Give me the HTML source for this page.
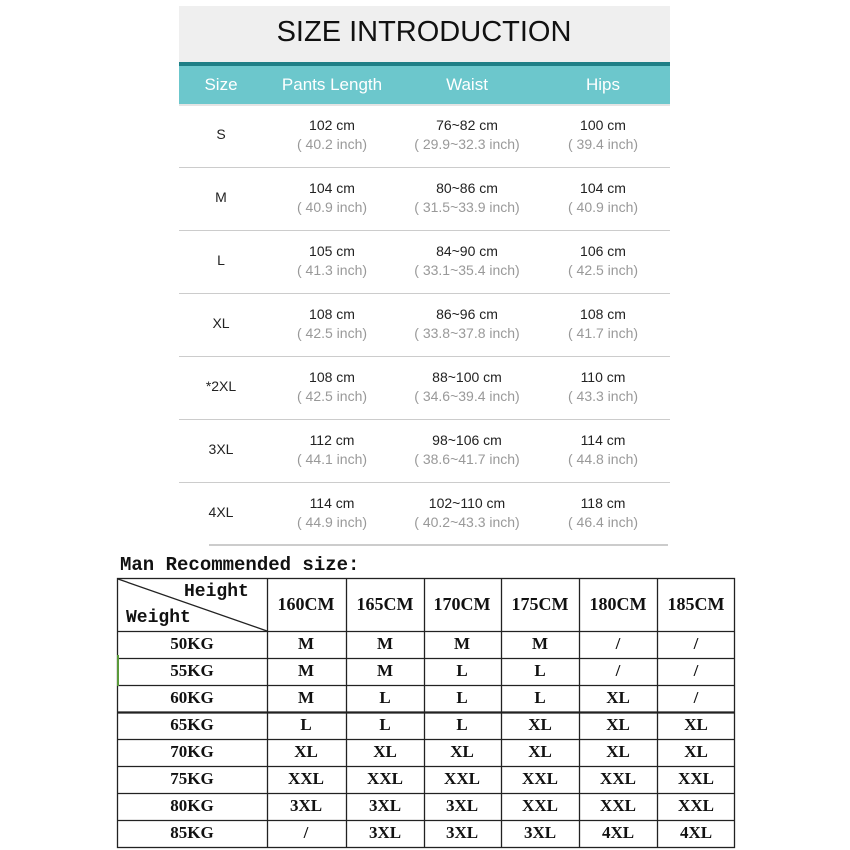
<!DOCTYPE html>
<html><head><meta charset="utf-8"><style>
body{margin:0;width:850px;height:850px;background:#fff;position:relative;overflow:hidden;font-family:"Liberation Sans",sans-serif}
.a{position:absolute}
.c{position:absolute;text-align:center;transform:translateX(-50%);white-space:nowrap}
.v{font-size:14px;color:#222;line-height:19px}
.g{font-size:14px;color:#999;line-height:19px}
.s{font-family:"Liberation Serif",serif;font-weight:bold;font-size:17px;color:#111;position:absolute;text-align:center;transform:translateX(-50%);white-space:nowrap}
</style></head><body>
<div class="a" style="left:179px;top:6px;width:491px;height:56px;background:#efefef"></div>
<div class="c" style="left:424px;top:16px;font-size:29px;color:#111">SIZE INTRODUCTION</div>
<div class="a" style="left:179px;top:62px;width:491px;height:4px;background:#1f7f86"></div>
<div class="a" style="left:179px;top:66px;width:491px;height:38px;background:#6cc7cc"></div>
<div class="a" style="left:179px;top:104px;width:491px;height:2px;background:#e4e4e4"></div>
<div class="c" style="left:221px;top:75px;font-size:17px;color:#fff">Size</div>
<div class="c" style="left:332px;top:75px;font-size:17px;color:#fff">Pants Length</div>
<div class="c" style="left:467px;top:75px;font-size:17px;color:#fff">Waist</div>
<div class="c" style="left:603px;top:75px;font-size:17px;color:#fff">Hips</div>
<div id="rows"></div>
<svg class="a" style="left:0;top:0" width="850" height="850">
<line x1="209" y1="545" x2="668" y2="545" stroke="#ccc" stroke-width="2"/>
<g stroke="#222" stroke-width="1.3" fill="none">
<rect x="117.5" y="578.5" width="617" height="269"/>
<line x1="267.5" y1="578" x2="267.5" y2="848"/>
<line x1="346.5" y1="578" x2="346.5" y2="848"/>
<line x1="424.5" y1="578" x2="424.5" y2="848"/>
<line x1="501.5" y1="578" x2="501.5" y2="848"/>
<line x1="579.5" y1="578" x2="579.5" y2="848"/>
<line x1="657.5" y1="578" x2="657.5" y2="848"/>
<line x1="117" y1="631.5" x2="735" y2="631.5"/>
<line x1="117" y1="658.5" x2="735" y2="658.5"/>
<line x1="117" y1="685.5" x2="735" y2="685.5"/>
<line x1="117" y1="712.5" x2="735" y2="712.5" stroke-width="2.2"/>
<line x1="117" y1="739.5" x2="735" y2="739.5"/>
<line x1="117" y1="766.5" x2="735" y2="766.5"/>
<line x1="117" y1="793.5" x2="735" y2="793.5"/>
<line x1="117" y1="820.5" x2="735" y2="820.5"/>
<line x1="118" y1="579" x2="267" y2="631"/>
</g>
<line x1="118" y1="655" x2="118" y2="686" stroke="#5a9a3a" stroke-width="2"/>
</svg>
<div class="a" style="left:120px;top:554px;font-family:'Liberation Mono',monospace;font-weight:bold;font-size:19px;color:#111">Man Recommended size:</div>
<div class="a" style="left:184px;top:582px;font-family:'Liberation Mono',monospace;font-weight:bold;font-size:18px;color:#111">Height</div>
<div class="a" style="left:126px;top:608px;font-family:'Liberation Mono',monospace;font-weight:bold;font-size:18px;color:#111">Weight</div>
<div id="t2"></div>
<script>
var R=[["S","102 cm","40.2","76~82 cm","29.9~32.3","100 cm","39.4"],["M","104 cm","40.9","80~86 cm","31.5~33.9","104 cm","40.9"],["L","105 cm","41.3","84~90 cm","33.1~35.4","106 cm","42.5"],["XL","108 cm","42.5","86~96 cm","33.8~37.8","108 cm","41.7"],["*2XL","108 cm","42.5","88~100 cm","34.6~39.4","110 cm","43.3"],["3XL","112 cm","44.1","98~106 cm","38.6~41.7","114 cm","44.8"],["4XL","114 cm","44.9","102~110 cm","40.2~43.3","118 cm","46.4"]];
var h="";
R.forEach(function(r,i){var y=106+i*63;
h+='<div class="c v" style="left:221px;top:'+(y+19)+'px">'+r[0]+'</div>';
[[332,1],[467,3],[603,5]].forEach(function(p){h+='<div class="c v" style="left:'+p[0]+'px;top:'+(y+10)+'px">'+r[p[1]]+'</div><div class="c g" style="left:'+p[0]+'px;top:'+(y+29)+'px">( '+r[p[1]+1]+' inch)</div>';});
if(i<6)h+='<div class="a" style="left:179px;top:'+(y+61)+'px;width:491px;height:1px;background:#ccc"></div>';});
document.getElementById("rows").innerHTML=h;
var X=[306,385,462,540,618,696];var H=["160CM","165CM","170CM","175CM","180CM","185CM"];
var W=["50KG","55KG","60KG","65KG","70KG","75KG","80KG","85KG"];
var D=[["M","M","M","M","/","/"],["M","M","L","L","/","/"],["M","L","L","L","XL","/"],["L","L","L","XL","XL","XL"],["XL","XL","XL","XL","XL","XL"],["XXL","XXL","XXL","XXL","XXL","XXL"],["3XL","3XL","3XL","XXL","XXL","XXL"],["/","3XL","3XL","3XL","4XL","4XL"]];
var t="";H.forEach(function(s,j){t+='<div class="s" style="left:'+X[j]+'px;top:594px;font-size:18px">'+s+'</div>';});
W.forEach(function(w,i){var y=634+i*27;t+='<div class="s" style="left:192px;top:'+y+'px">'+w+'</div>';
D[i].forEach(function(s,j){t+='<div class="s" style="left:'+X[j]+'px;top:'+y+'px">'+s+'</div>';});});
document.getElementById("t2").innerHTML=t;
</script>
</body></html>
